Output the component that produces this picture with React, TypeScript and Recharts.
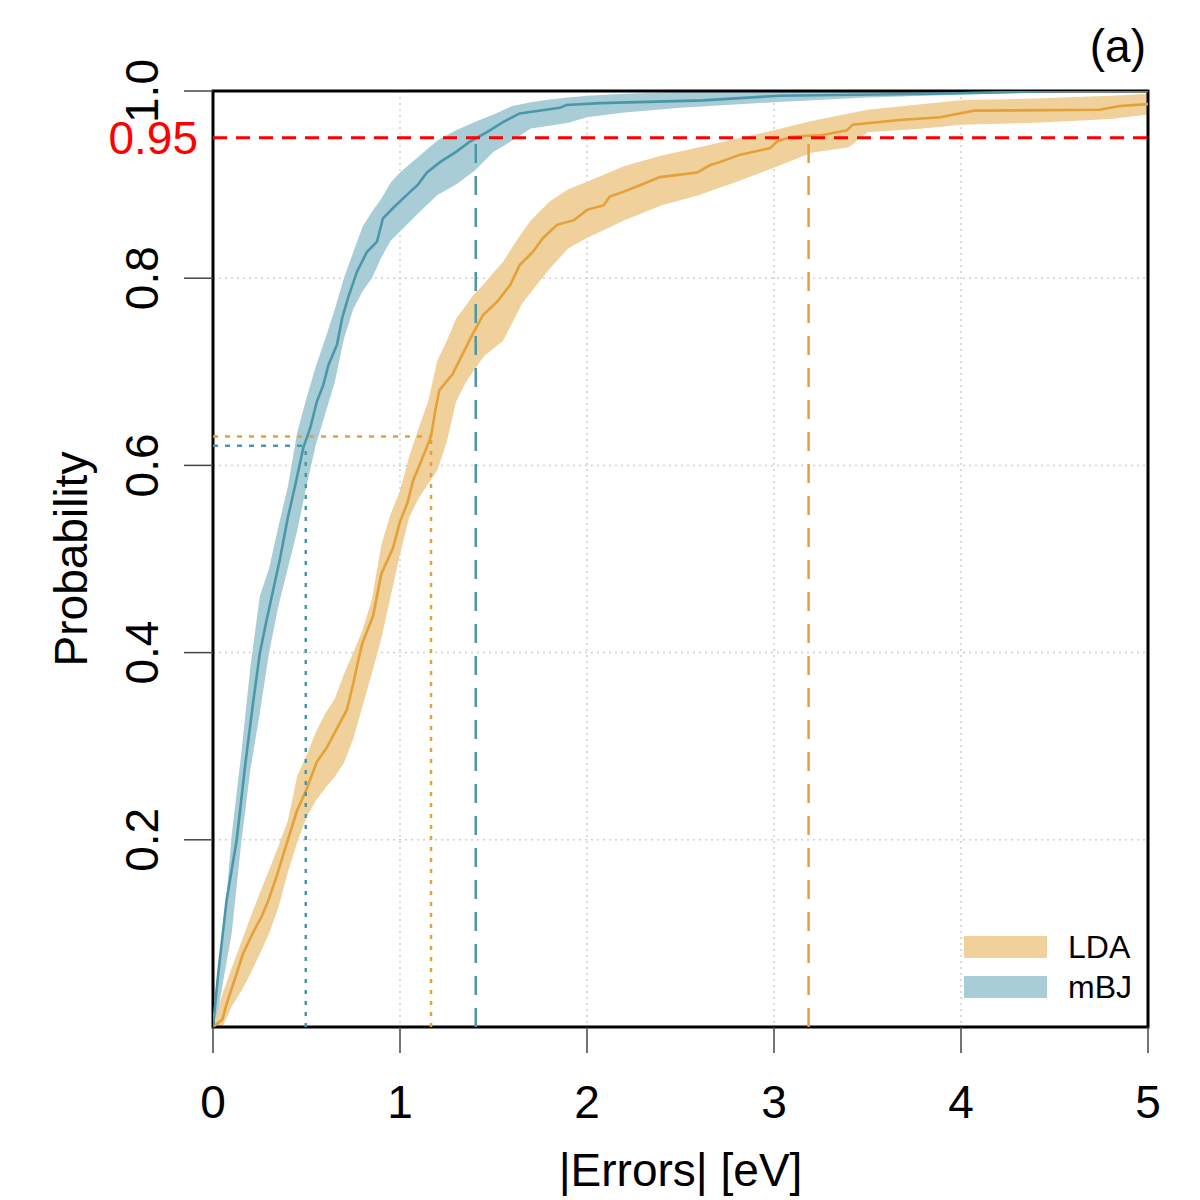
import {
  ComposedChart,
  Area,
  Line,
  XAxis,
  YAxis,
  CartesianGrid,
  ReferenceLine,
  ReferenceArea,
} from 'recharts'

// ECDF of |errors| for mBJ
const mbjX = [0, 0.028, 0.073, 0.127, 0.171, 0.216, 0.251, 0.287, 0.358, 0.4, 0.44, 0.483, 0.52, 0.555, 0.59, 0.617, 0.663, 0.69, 0.722, 0.77, 0.823, 0.877, 0.909, 0.963, 1.037, 1.096, 1.144, 1.214, 1.3, 1.374, 1.465, 1.553, 1.64, 1.855, 1.89, 2.07, 2.62, 3.03, 3.85, 4.5, 5]
const mbjP = [0, 0.057, 0.136, 0.2, 0.278, 0.349, 0.4, 0.435, 0.5, 0.544, 0.579, 0.619, 0.64, 0.668, 0.686, 0.707, 0.729, 0.757, 0.779, 0.807, 0.828, 0.839, 0.864, 0.875, 0.889, 0.9, 0.913, 0.924, 0.935, 0.946, 0.956, 0.967, 0.976, 0.982, 0.985, 0.987, 0.99, 0.995, 0.997, 1, 1]

const mbjBandX = [0, 0.03, 0.06, 0.1, 0.15, 0.2, 0.25, 0.3, 0.35, 0.4, 0.45, 0.5, 0.55, 0.6, 0.65, 0.7, 0.75, 0.8, 0.85, 0.9, 0.95, 1.0, 1.1, 1.2, 1.3, 1.4, 1.5, 1.6, 1.7, 1.8, 1.9, 2.0, 2.2, 2.5, 3.0, 3.5, 4.0, 4.5, 5.0]
const mbjHi = [0.01, 0.07, 0.11, 0.205, 0.29, 0.385, 0.46, 0.49, 0.535, 0.577, 0.635, 0.672, 0.706, 0.735, 0.766, 0.8, 0.828, 0.855, 0.871, 0.885, 0.902, 0.913, 0.93, 0.947, 0.958, 0.967, 0.975, 0.984, 0.988, 0.991, 0.993, 0.995, 0.997, 0.999, 1, 1, 1, 1, 1]
const mbjLo = [0, 0.02, 0.055, 0.1, 0.195, 0.275, 0.335, 0.4, 0.45, 0.49, 0.53, 0.578, 0.622, 0.655, 0.688, 0.735, 0.767, 0.786, 0.8, 0.822, 0.84, 0.85, 0.87, 0.889, 0.9, 0.915, 0.935, 0.947, 0.96, 0.963, 0.966, 0.972, 0.977, 0.982, 0.988, 0.993, 0.996, 0.999, 1]

// ECDF of |errors| for LDA
const ldaX = [0, 0.05, 0.075, 0.128, 0.16, 0.214, 0.26, 0.294, 0.342, 0.374, 0.41, 0.449, 0.5, 0.555, 0.61, 0.663, 0.716, 0.75, 0.776, 0.8, 0.856, 0.9, 0.963, 1.0, 1.04, 1.07, 1.1, 1.166, 1.19, 1.21, 1.25, 1.28, 1.34, 1.385, 1.445, 1.52, 1.59, 1.64, 1.71, 1.765, 1.84, 1.93, 2.0, 2.09, 2.12, 2.19, 2.28, 2.39, 2.59, 2.66, 2.71, 2.82, 2.98, 3.015, 3.09, 3.26, 3.39, 3.42, 3.67, 3.89, 3.99, 4.07, 4.74, 4.85, 5.0]
const ldaP = [0, 0.008, 0.026, 0.058, 0.078, 0.101, 0.118, 0.134, 0.162, 0.183, 0.206, 0.231, 0.254, 0.283, 0.299, 0.319, 0.339, 0.367, 0.391, 0.411, 0.439, 0.484, 0.512, 0.54, 0.56, 0.584, 0.598, 0.631, 0.66, 0.68, 0.69, 0.697, 0.721, 0.739, 0.761, 0.775, 0.793, 0.814, 0.828, 0.843, 0.857, 0.862, 0.873, 0.878, 0.887, 0.892, 0.899, 0.908, 0.913, 0.921, 0.924, 0.932, 0.939, 0.946, 0.951, 0.953, 0.958, 0.964, 0.969, 0.972, 0.976, 0.979, 0.98, 0.984, 0.986]

const ldaBandX = [0, 0.05, 0.1, 0.15, 0.2, 0.25, 0.3, 0.35, 0.4, 0.45, 0.5, 0.55, 0.6, 0.65, 0.7, 0.75, 0.8, 0.85, 0.9, 0.95, 1.0, 1.05, 1.1, 1.15, 1.2, 1.25, 1.3, 1.35, 1.4, 1.45, 1.5, 1.55, 1.6, 1.65, 1.7, 1.8, 1.9, 2.0, 2.2, 2.4, 2.6, 2.8, 3.0, 3.2, 3.4, 3.5, 3.8, 4.0, 4.4, 4.8, 5.0]
const ldaHi = [0, 0.035, 0.063, 0.09, 0.117, 0.143, 0.168, 0.193, 0.22, 0.268, 0.29, 0.315, 0.335, 0.35, 0.377, 0.4, 0.424, 0.457, 0.515, 0.548, 0.573, 0.61, 0.64, 0.668, 0.712, 0.733, 0.757, 0.77, 0.784, 0.794, 0.806, 0.817, 0.833, 0.848, 0.862, 0.882, 0.895, 0.903, 0.92, 0.931, 0.94, 0.949, 0.958, 0.968, 0.976, 0.98, 0.986, 0.99, 0.992, 0.995, 0.997]
const ldaLo = [0, 0, 0.022, 0.038, 0.057, 0.078, 0.1, 0.128, 0.165, 0.197, 0.224, 0.242, 0.255, 0.267, 0.282, 0.308, 0.343, 0.378, 0.415, 0.46, 0.505, 0.545, 0.565, 0.58, 0.595, 0.625, 0.668, 0.688, 0.703, 0.717, 0.725, 0.733, 0.752, 0.772, 0.785, 0.81, 0.832, 0.843, 0.862, 0.878, 0.889, 0.903, 0.918, 0.934, 0.94, 0.956, 0.96, 0.964, 0.966, 0.97, 0.975]

// markers: 95% quantile (dashed) and mean error (dotted)
const q95 = 0.95
const mbjQ95 = 1.405
const ldaQ95 = 3.185
const mbjMean = 0.496
const mbjMeanP = 0.621
const ldaMean = 1.166
const ldaMeanP = 0.631

const xTicks = [0, 1, 2, 3, 4, 5]
const yTicks = [0.2, 0.4, 0.6, 0.8, 1.0]
const legendNames = ['LDA', 'mBJ']

const FONT = '"Liberation Sans", Arial, Helvetica, sans-serif'
const LDA_LINE = '#E3A137'
const LDA_BAND = '#F0D09B'
const MBJ_LINE = '#4A97A9'
const MBJ_BAND = '#A8CDD7'
const legendColors = [LDA_BAND, MBJ_BAND]

const mbjLine = mbjX.map((x, i) => ({ x, p: mbjP[i] }))
const ldaLine = ldaX.map((x, i) => ({ x, p: ldaP[i] }))
const mbjBand = mbjBandX.map((x, i) => ({ x, band: [mbjLo[i], mbjHi[i]] }))
const ldaBand = ldaBandX.map((x, i) => ({ x, band: [ldaLo[i], ldaHi[i]] }))

function YTick(props: any) {
  const { x, y, payload } = props
  const v: number = payload.value
  const bx = x - 24
  return (
    <text
      x={bx}
      y={y}
      transform={`rotate(-90 ${bx} ${y})`}
      textAnchor="middle"
      fontSize={46}
      fontFamily={FONT}
      fill="#000"
    >
      {v.toFixed(1)}
    </text>
  )
}

function XTick(props: any) {
  const { x, y, payload } = props
  return (
    <text x={x} y={y + 63} textAnchor="middle" fontSize={46} fontFamily={FONT} fill="#000">
      {payload.value}
    </text>
  )
}

function LegendBox() {
  return (
    <div style={{ position: 'absolute', left: 964, top: 927, fontFamily: FONT }}>
      {legendNames.map((n, i) => (
        <div key={n} style={{ display: 'flex', alignItems: 'center', height: 40 }}>
          <div style={{ width: 83, height: 22, background: legendColors[i], marginRight: 21 }} />
          <span style={{ fontSize: 32, color: '#000', lineHeight: '40px' }}>{n}</span>
        </div>
      ))}
    </div>
  )
}

export default function App() {
  return (
    <div style={{ position: 'absolute', left: 0, top: 0, width: 1200, height: 1200, background: '#fff' }}>
      <ComposedChart width={1200} height={1200} margin={{ top: 91, right: 52, bottom: 0, left: 0 }}>
        <CartesianGrid stroke="#cfcfcf" strokeDasharray="2 4" strokeWidth={1.5} />
        <XAxis
          dataKey="x"
          type="number"
          domain={[0, 5]}
          ticks={xTicks}
          interval={0}
          height={173}
          tickSize={26}
          tickLine={{ stroke: '#444', strokeWidth: 1.5 }}
          axisLine={false}
          tick={<XTick />}
          allowDataOverflow
          label={{
            content: (p: any) => (
              <text
                x={p.viewBox.x + p.viewBox.width / 2}
                y={1186}
                textAnchor="middle"
                fontSize={46}
                fontFamily={FONT}
                fill="#000"
              >
                |Errors| [eV]
              </text>
            ),
          }}
        />
        <YAxis
          type="number"
          domain={[0, 1]}
          ticks={yTicks}
          interval={0}
          width={213}
          tickSize={29}
          tickLine={{ stroke: '#444', strokeWidth: 1.5 }}
          axisLine={false}
          tick={<YTick />}
          allowDataOverflow
          label={{
            content: () => (
              <text
                x={87}
                y={559}
                transform="rotate(-90 87 559)"
                textAnchor="middle"
                fontSize={46}
                fontFamily={FONT}
                fill="#000"
              >
                Probability
              </text>
            ),
          }}
        />
        <Area
          data={ldaBand}
          dataKey="band"
          type="linear"
          stroke="none"
          fill={LDA_BAND}
          fillOpacity={1}
          isAnimationActive={false}
        />
        <Area
          data={mbjBand}
          dataKey="band"
          type="linear"
          stroke="none"
          fill={MBJ_BAND}
          fillOpacity={1}
          isAnimationActive={false}
        />
        <Line
          data={ldaLine}
          dataKey="p"
          type="linear"
          stroke={LDA_LINE}
          strokeWidth={2.6}
          dot={false}
          isAnimationActive={false}
        />
        <Line
          data={mbjLine}
          dataKey="p"
          type="linear"
          stroke={MBJ_LINE}
          strokeWidth={2.6}
          dot={false}
          isAnimationActive={false}
        />
        <ReferenceLine
          y={q95}
          stroke="#FF0000"
          strokeWidth={3}
          strokeDasharray="14 9"
          label={{
            content: (p: any) => (
              <text
                x={p.viewBox.x - 15}
                y={p.viewBox.y + 16}
                textAnchor="end"
                fontSize={46}
                fontFamily={FONT}
                fill="#FF0000"
              >
                0.95
              </text>
            ),
          }}
        />
        <ReferenceLine
          segment={[{ x: mbjQ95, y: 0 }, { x: mbjQ95, y: q95 }]}
          stroke={MBJ_LINE}
          strokeWidth={2.5}
          strokeDasharray="19 13"
        />
        <ReferenceLine
          segment={[{ x: ldaQ95, y: 0 }, { x: ldaQ95, y: q95 }]}
          stroke={LDA_LINE}
          strokeWidth={2.5}
          strokeDasharray="19 13"
        />
        <ReferenceLine
          segment={[{ x: mbjMean, y: 0 }, { x: mbjMean, y: mbjMeanP }]}
          stroke={MBJ_LINE}
          strokeWidth={2.5}
          strokeDasharray="4 7"
        />
        <ReferenceLine
          segment={[{ x: 0, y: mbjMeanP }, { x: mbjMean, y: mbjMeanP }]}
          stroke={MBJ_LINE}
          strokeWidth={2.5}
          strokeDasharray="5 7"
        />
        <ReferenceLine
          segment={[{ x: ldaMean, y: 0 }, { x: ldaMean, y: ldaMeanP }]}
          stroke={LDA_LINE}
          strokeWidth={2.5}
          strokeDasharray="4 7"
        />
        <ReferenceLine
          segment={[{ x: 0, y: ldaMeanP }, { x: ldaMean, y: ldaMeanP }]}
          stroke={LDA_LINE}
          strokeWidth={2.5}
          strokeDasharray="5 7"
        />
        <ReferenceArea
          x1={0}
          x2={5}
          y1={0}
          y2={1}
          fill="none"
          stroke="#000"
          strokeWidth={3}
          ifOverflow="visible"
          label={{
            content: (p: any) => (
              <text
                x={p.viewBox.x + p.viewBox.width - 2}
                y={p.viewBox.y - 29}
                textAnchor="end"
                fontSize={46}
                fontFamily={FONT}
                fill="#000"
              >
                (a)
              </text>
            ),
          }}
        />
      </ComposedChart>
      <LegendBox />
    </div>
  )
}
